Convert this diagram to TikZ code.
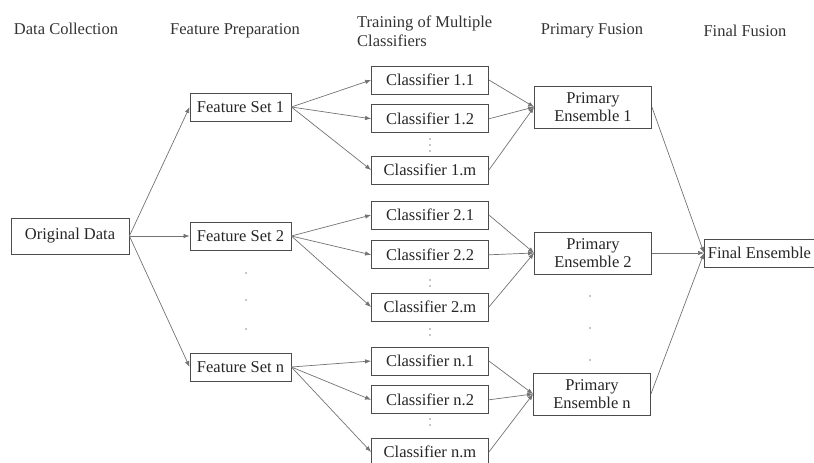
\documentclass[tikz,border=0pt]{standalone}
\usepackage{fontspec}
\setmainfont{Liberation Serif}
\usepackage{xcolor}
\usetikzlibrary{positioning,arrows.meta}

\tikzset{
  box/.style={draw=black!70, line width=0.8pt, minimum height=28pt, inner sep=2pt,
    text=black!85, font=\fontsize{16.5}{19}\selectfont},
  head/.style={text=black!80, font=\fontsize{16.5}{19}\selectfont, inner sep=0pt},
  link/.style={draw=black!55, line width=0.7pt, -{Latex[length=6pt,width=4.5pt]}},
  dot/.style={circle, fill=black!45, inner sep=0pt, minimum size=1.8pt},
}

\begin{document}
\begin{tikzpicture}[x=1pt, y=-1pt]
  \useasboundingbox (0,0) rectangle (814,463);

  % column titles
  \node[head] (h1) at (66,29) {Data Collection};
  \node[head] (h2) at (235,31) {Feature Preparation};
  \node[head, align=left, anchor=west] (h3) at (357,31) {Training of Multiple\\Classifiers};
  \node[head] (h4) at (592,31) {Primary Fusion};
  \node[head] (h5) at (745,31) {Final Fusion};

  % data and feature sets
  \node[box, minimum width=118pt, minimum height=36pt] (orig) at (70,236) {Original Data};
  \node[box, minimum width=101pt] (fs1) at (240.5,107) {Feature Set 1};
  \node[box, minimum width=101pt] (fs2) at (240.5,236) {Feature Set 2};
  \node[box, minimum width=101pt] (fsn) at (240.5,367) {Feature Set n};

  % classifiers
  \node[box, minimum width=117pt] (c11) at (430,80) {Classifier 1.1};
  \node[box, minimum width=117pt, below=10pt of c11] (c12) {Classifier 1.2};
  \node[box, minimum width=117pt] (c1m) at (430,170) {Classifier 1.m};
  \node[box, minimum width=117pt] (c21) at (430,215) {Classifier 2.1};
  \node[box, minimum width=117pt, below=11pt of c21] (c22) {Classifier 2.2};
  \node[box, minimum width=117pt] (c2m) at (430,307) {Classifier 2.m};
  \node[box, minimum width=117pt] (cn1) at (430,361) {Classifier n.1};
  \node[box, minimum width=117pt, below=10pt of cn1] (cn2) {Classifier n.2};
  \node[box, minimum width=117pt] (cnm) at (430,452) {Classifier n.m};

  % fusion
  \node[box, minimum width=117pt, minimum height=42pt, align=center,
    font=\fontsize{16.5}{18}\selectfont] (pe1) at (593,107) {Primary\\Ensemble 1};
  \node[box, minimum width=117pt, minimum height=42pt, align=center,
    font=\fontsize{16.5}{18}\selectfont] (pe2) at (593,253) {Primary\\Ensemble 2};
  \node[box, minimum width=117pt, minimum height=42pt, align=center,
    font=\fontsize{16.5}{18}\selectfont] (pen) at (592,394) {Primary\\Ensemble n};
  \node[box, minimum width=110pt, anchor=west, inner xsep=1pt] (fin) at (704,253) {Final Ensemble};

  % ellipsis dots
  \foreach \y in {273,300,329} \node[dot] at (246,\y) {};
  \foreach \y in {296,328,360} \node[dot] at (590,\y) {};
  \foreach \y in {139,145,151, 280,286, 329,335, 419,425} \node[dot] at (430,\y) {};

  % connectors
  \foreach \f in {fs1,fs2,fsn} \draw[link] (orig.east) -- (\f.west);
  \foreach \c in {c11,c12,c1m} {
    \draw[link] (fs1.east) -- (\c.west);
    \draw[link] (\c.east) -- (pe1.west);
  }
  \foreach \c in {c21,c22,c2m} {
    \draw[link] (fs2.east) -- (\c.west);
    \draw[link] (\c.east) -- (pe2.west);
  }
  \foreach \c in {cn1,cn2,cnm} {
    \draw[link] (fsn.east) -- (\c.west);
    \draw[link] (\c.east) -- (pen.west);
  }
  \foreach \p in {pe1,pe2,pen} \draw[link] (\p.east) -- (fin.west);
\end{tikzpicture}
\end{document}
